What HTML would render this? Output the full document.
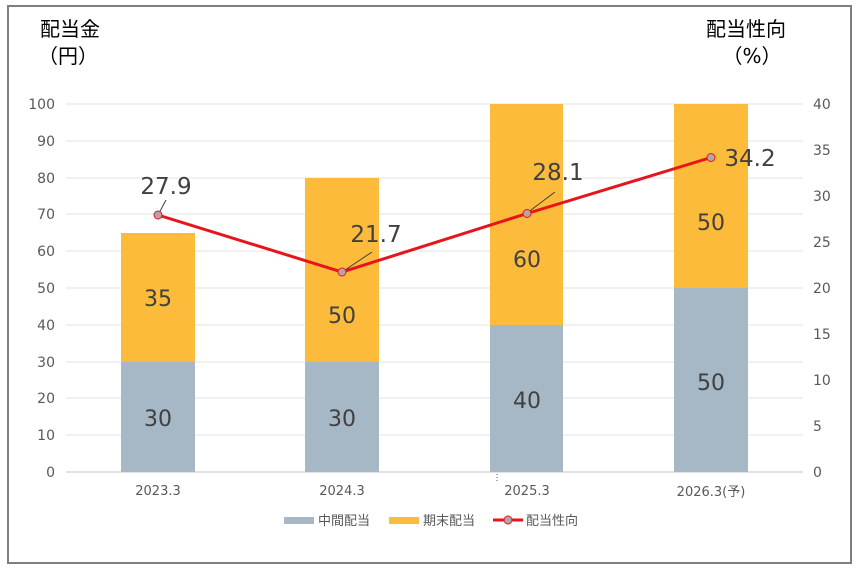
<!DOCTYPE html>
<html><head><meta charset="utf-8"><style>
body{margin:0;background:#fff;}
svg{display:block;font-family:"DejaVu Sans","Noto Sans CJK JP",sans-serif;}
</style></head><body>
<svg width="867" height="577" viewBox="0 0 867 577">
<rect x="8" y="6" width="843" height="557" fill="#fff" stroke="#7f7f7f" stroke-width="2"/>
<g stroke="#e3e3e3" stroke-width="1">
<line x1="66" x2="803" y1="104" y2="104"/><line x1="66" x2="803" y1="141" y2="141"/>
<line x1="66" x2="803" y1="178" y2="178"/><line x1="66" x2="803" y1="214" y2="214"/>
<line x1="66" x2="803" y1="251" y2="251"/><line x1="66" x2="803" y1="288" y2="288"/>
<line x1="66" x2="803" y1="325" y2="325"/><line x1="66" x2="803" y1="362" y2="362"/>
<line x1="66" x2="803" y1="398" y2="398"/><line x1="66" x2="803" y1="435" y2="435"/>
</g>
<line x1="66" x2="803" y1="472" y2="472" stroke="#d9d9d9" stroke-width="1.5"/>
<g font-size="14" fill="#595959" text-anchor="end">
<text x="55" y="109">100</text><text x="55" y="146">90</text><text x="55" y="183">80</text>
<text x="55" y="219">70</text><text x="55" y="256">60</text><text x="55" y="293">50</text>
<text x="55" y="330">40</text><text x="55" y="367">30</text><text x="55" y="403">20</text>
<text x="55" y="440">10</text><text x="55" y="477">0</text>
</g>
<g font-size="14" fill="#595959" text-anchor="start">
<text x="813" y="109">40</text><text x="813" y="155">35</text><text x="813" y="201">30</text>
<text x="813" y="247">25</text><text x="813" y="293">20</text><text x="813" y="339">15</text>
<text x="813" y="385">10</text><text x="813" y="431">5</text><text x="813" y="477">0</text>
</g>
<g font-size="20" fill="#000" text-anchor="middle">
<text x="70" y="36">配当金</text><text x="68" y="63">（円）</text>
<text x="746" y="36">配当性向</text><text x="752" y="63">（%）</text>
</g>
<g fill="#a6b7c6">
<rect x="121" y="362" width="74" height="110"/><rect x="305" y="362" width="74" height="110"/>
<rect x="490" y="325" width="73" height="147"/><rect x="674" y="288" width="74" height="184"/>
</g>
<g fill="#fdbb3b">
<rect x="121" y="233" width="74" height="129"/><rect x="305" y="178" width="74" height="184"/>
<rect x="490" y="104" width="73" height="221"/><rect x="674" y="104" width="74" height="184"/>
</g>
<g font-size="22" fill="#404040" text-anchor="middle">
<text x="158" y="306">35</text><text x="158" y="426">30</text>
<text x="342" y="323">50</text><text x="342" y="426">30</text>
<text x="527" y="267">60</text><text x="527" y="408">40</text>
<text x="711" y="230">50</text><text x="711" y="390">50</text>
</g>
<g stroke="#404040" stroke-width="1">
<line x1="158" y1="215" x2="166" y2="200"/>
<line x1="342" y1="272" x2="372" y2="252"/>
<line x1="527" y1="213" x2="555" y2="192"/>
</g>
<polyline points="158,215 342,272 527,213.5 711,157.5" fill="none" stroke="#e8141c" stroke-width="3"/>
<g fill="#b3a3aa" stroke="#e8141c" stroke-width="1">
<circle cx="158" cy="215" r="4"/><circle cx="342" cy="272" r="4"/>
<circle cx="527" cy="213.5" r="4"/><circle cx="711" cy="157.5" r="4"/>
</g>
<g font-size="23" fill="#404040" text-anchor="middle">
<text x="166" y="194">27.9</text><text x="376" y="242">21.7</text>
<text x="558" y="180">28.1</text><text x="750" y="166">34.2</text>
</g>
<g font-size="13" fill="#595959" text-anchor="middle">
<text x="158" y="495">2023.3</text><text x="342" y="495">2024.3</text>
<text x="527" y="495">2025.3</text><text x="711" y="496">2026.3(予)</text>
</g>
<line x1="497" y1="474" x2="497" y2="481" stroke="#595959" stroke-dasharray="1,2"/>
<rect x="284" y="517" width="30" height="7" fill="#a6b7c6"/>
<text x="318" y="525" font-size="13" fill="#595959">中間配当</text>
<rect x="389" y="517" width="30" height="7" fill="#fdbb3b"/>
<text x="423" y="525" font-size="13" fill="#595959">期末配当</text>
<line x1="493" y1="520" x2="523" y2="520" stroke="#e8141c" stroke-width="3"/>
<circle cx="508" cy="520" r="4" fill="#b3a3aa" stroke="#e8141c"/>
<text x="526" y="525" font-size="13" fill="#595959">配当性向</text>
</svg>
</body></html>
